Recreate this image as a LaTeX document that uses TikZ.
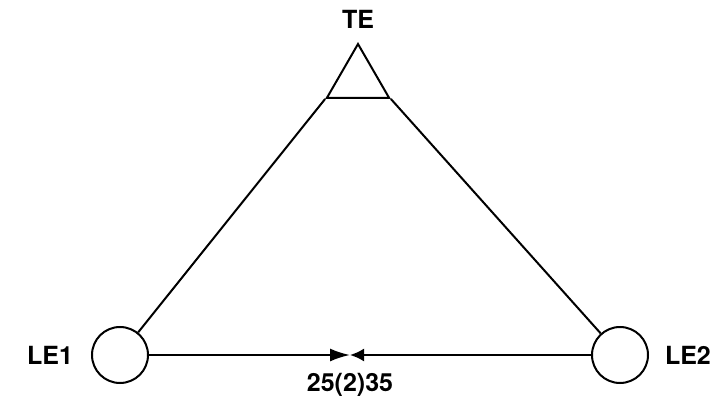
\documentclass[tikz,border=0pt]{standalone}
\usepackage{fontspec}
\setmainfont{TeX Gyre Heros}
\usetikzlibrary{arrows.meta,positioning,shapes.geometric}

\begin{document}
\begin{tikzpicture}[x=1pt,y=-1pt,line width=2pt,
      station/.style={circle,draw,minimum size=56pt,inner sep=0pt},
      target/.style={regular polygon,regular polygon sides=3,draw,minimum size=72pt,inner sep=0pt},
      lbl/.style={font=\fontsize{25}{28}\selectfont\bfseries,inner sep=0pt},
      arr/.style={-{Latex[length=#1,width=13pt]}}]
      \useasboundingbox (0,0) rectangle (710,401);
      \node[target] (te) at (358,80) {};
      \node[station] (le1) at (120,355) {};
      \node[station] (le2) at (620,355) {};
      \coordinate (mid) at (350,355);
      \node[lbl,above=12pt of te.corner 1] (telbl) {TE};
      \node[lbl,left=17pt of le1] (le1lbl) {LE1};
      \node[lbl,right=15pt of le2] (le2lbl) {LE2};
      \node[lbl,below=17pt of mid] (val) {25(2)35};
      \draw (le1) -- (te.corner 2);
      \draw (le2) -- (te.corner 3);
      \draw[arr=20pt] (le1) -- (mid);
      \draw[arr=14pt] (le2) -- (mid);
\end{tikzpicture}
\end{document}
